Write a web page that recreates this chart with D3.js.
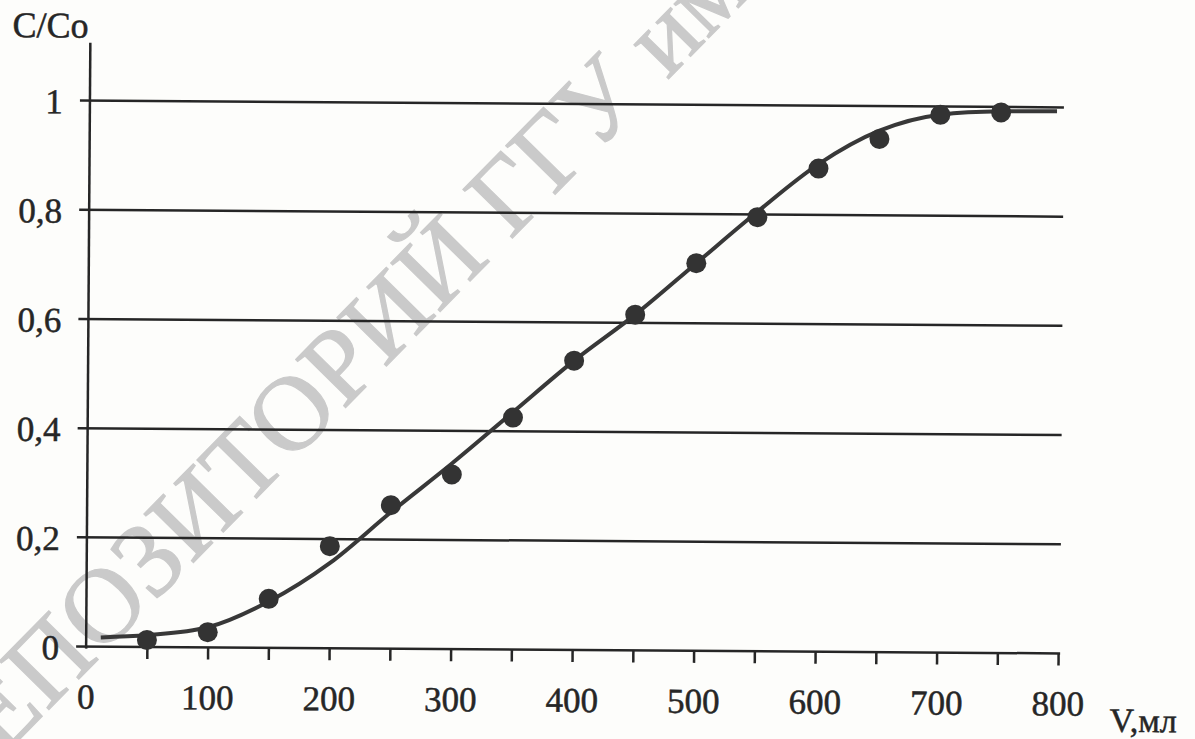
<!DOCTYPE html>
<html>
<head>
<meta charset="utf-8">
<script src="https://cdn.jsdelivr.net/npm/d3@7"></script>
<style>
  body { margin: 0; background: #fdfdfb; }
  svg { display: block; }
</style>
</head>
<body>
<div id="visualization"></div>
<script>
// measured points (V, ml -> C/Co)
var pointV = [50, 100, 150, 200, 250, 300, 350, 400, 450, 500, 550, 600, 650, 700, 750];
var pointC = [0.013, 0.028, 0.09, 0.187, 0.263, 0.32, 0.425, 0.53, 0.615, 0.71, 0.795, 0.885, 0.94, 0.985, 0.99];

// smooth fitted curve
var curveV = [12, 50, 100, 150, 200, 250, 300, 350, 400, 450, 500, 550, 600, 650, 700, 750, 796];
var curveC = [0.017, 0.022, 0.037, 0.085, 0.156, 0.25, 0.34, 0.435, 0.53, 0.615, 0.71, 0.805, 0.893, 0.955, 0.985, 0.992, 0.993];

var yTicks = [0, 0.2, 0.4, 0.6, 0.8, 1];
var xTicks = [0, 100, 200, 300, 400, 500, 600, 700, 800];
var xMinor = [50, 100, 150, 200, 250, 300, 350, 400, 450, 500, 550, 600, 650, 700, 750, 800];

var watermark = 'РЕПОЗИТОРИЙ ГГУ имени Ф. Скорины';

document.addEventListener('DOMContentLoaded', function() {
  var width = 1195;
  var height = 739;
  var font = '"Liberation Serif", "Times New Roman", serif';
  var ink = '#262626';

  var svg = d3.select('#visualization').append('svg')
              .attr('width', width)
              .attr('height', height);

  // watermark sits under the chart
  svg.append('text')
     .attr('transform', 'translate(-40,800) rotate(-45.5)')
     .attr('font-family', font)
     .attr('font-size', 106)
     .attr('fill', '#cacaca')
     .attr('stroke', '#cacaca')
     .attr('stroke-width', 1.2)
     .text(watermark);

  var x = d3.scaleLinear().domain([0, 800]).range([88, 1060]);
  var y = d3.scaleLinear().domain([0, 1]).range([650, 104]);

  // the scan is a little tilted
  var g = svg.append('g').attr('transform', 'rotate(0.4,570,380)');

  // grid lines
  g.append('g').selectAll('line')
   .data(yTicks)
   .enter().append('line')
     .attr('x1', 78)
     .attr('x2', 1062)
     .attr('y1', function(d) { return y(d); })
     .attr('y2', function(d) { return y(d); })
     .attr('stroke', ink)
     .attr('stroke-width', 2.5);

  // y axis line
  g.append('line')
   .attr('x1', x(0)).attr('x2', x(0))
   .attr('y1', 46).attr('y2', y(0) + 2)
   .attr('stroke', ink)
   .attr('stroke-width', 2.5);

  // x axis ticks
  var xAxis = d3.axisBottom(x)
                .tickValues(xMinor)
                .tickSize(12)
                .tickFormat('');
  var xa = g.append('g')
            .attr('transform', 'translate(0,' + y(0) + ')')
            .call(xAxis);
  xa.select('.domain').remove();
  xa.selectAll('line').attr('stroke', ink).attr('stroke-width', 2.5);

  function label(sel) {
    sel.attr('font-family', font)
       .attr('fill', ink)
       .attr('stroke', ink)
       .attr('stroke-width', 0.5);
  }

  // tick labels
  g.append('g').selectAll('text')
   .data(xTicks)
   .enter().append('text')
     .attr('x', function(d) { return x(d); })
     .attr('y', 712)
     .attr('text-anchor', 'middle')
     .attr('font-size', 35)
     .call(label)
     .text(function(d) { return d; });

  g.append('g').selectAll('text')
   .data(yTicks)
   .enter().append('text')
     .attr('x', 61)
     .attr('y', function(d) { return y(d) + 13; })
     .attr('text-anchor', 'end')
     .attr('font-size', 35)
     .call(label)
     .text(function(d) { return d === 0 || d === 1 ? String(d) : String(d).replace('.', ','); });

  g.append('text')
   .attr('x', 10).attr('y', 41)
   .attr('font-size', 36)
   .call(label)
   .text('C/Co');

  g.append('text')
   .attr('x', 1112).attr('y', 728)
   .attr('font-size', 34)
   .call(label)
   .text('V,мл');

  // fitted curve
  var line = d3.line()
               .x(function(d, i) { return x(curveV[i]); })
               .y(function(d) { return y(d); })
               .curve(d3.curveMonotoneX);

  g.append('path')
   .datum(curveC)
   .attr('d', line)
   .attr('fill', 'none')
   .attr('stroke', '#383838')
   .attr('stroke-width', 4);

  // points
  g.append('g').selectAll('circle')
   .data(pointC)
   .enter().append('circle')
     .attr('cx', function(d, i) { return x(pointV[i]); })
     .attr('cy', function(d) { return y(d); })
     .attr('r', 10)
     .attr('fill', '#333');
});
</script>
</body>
</html>
